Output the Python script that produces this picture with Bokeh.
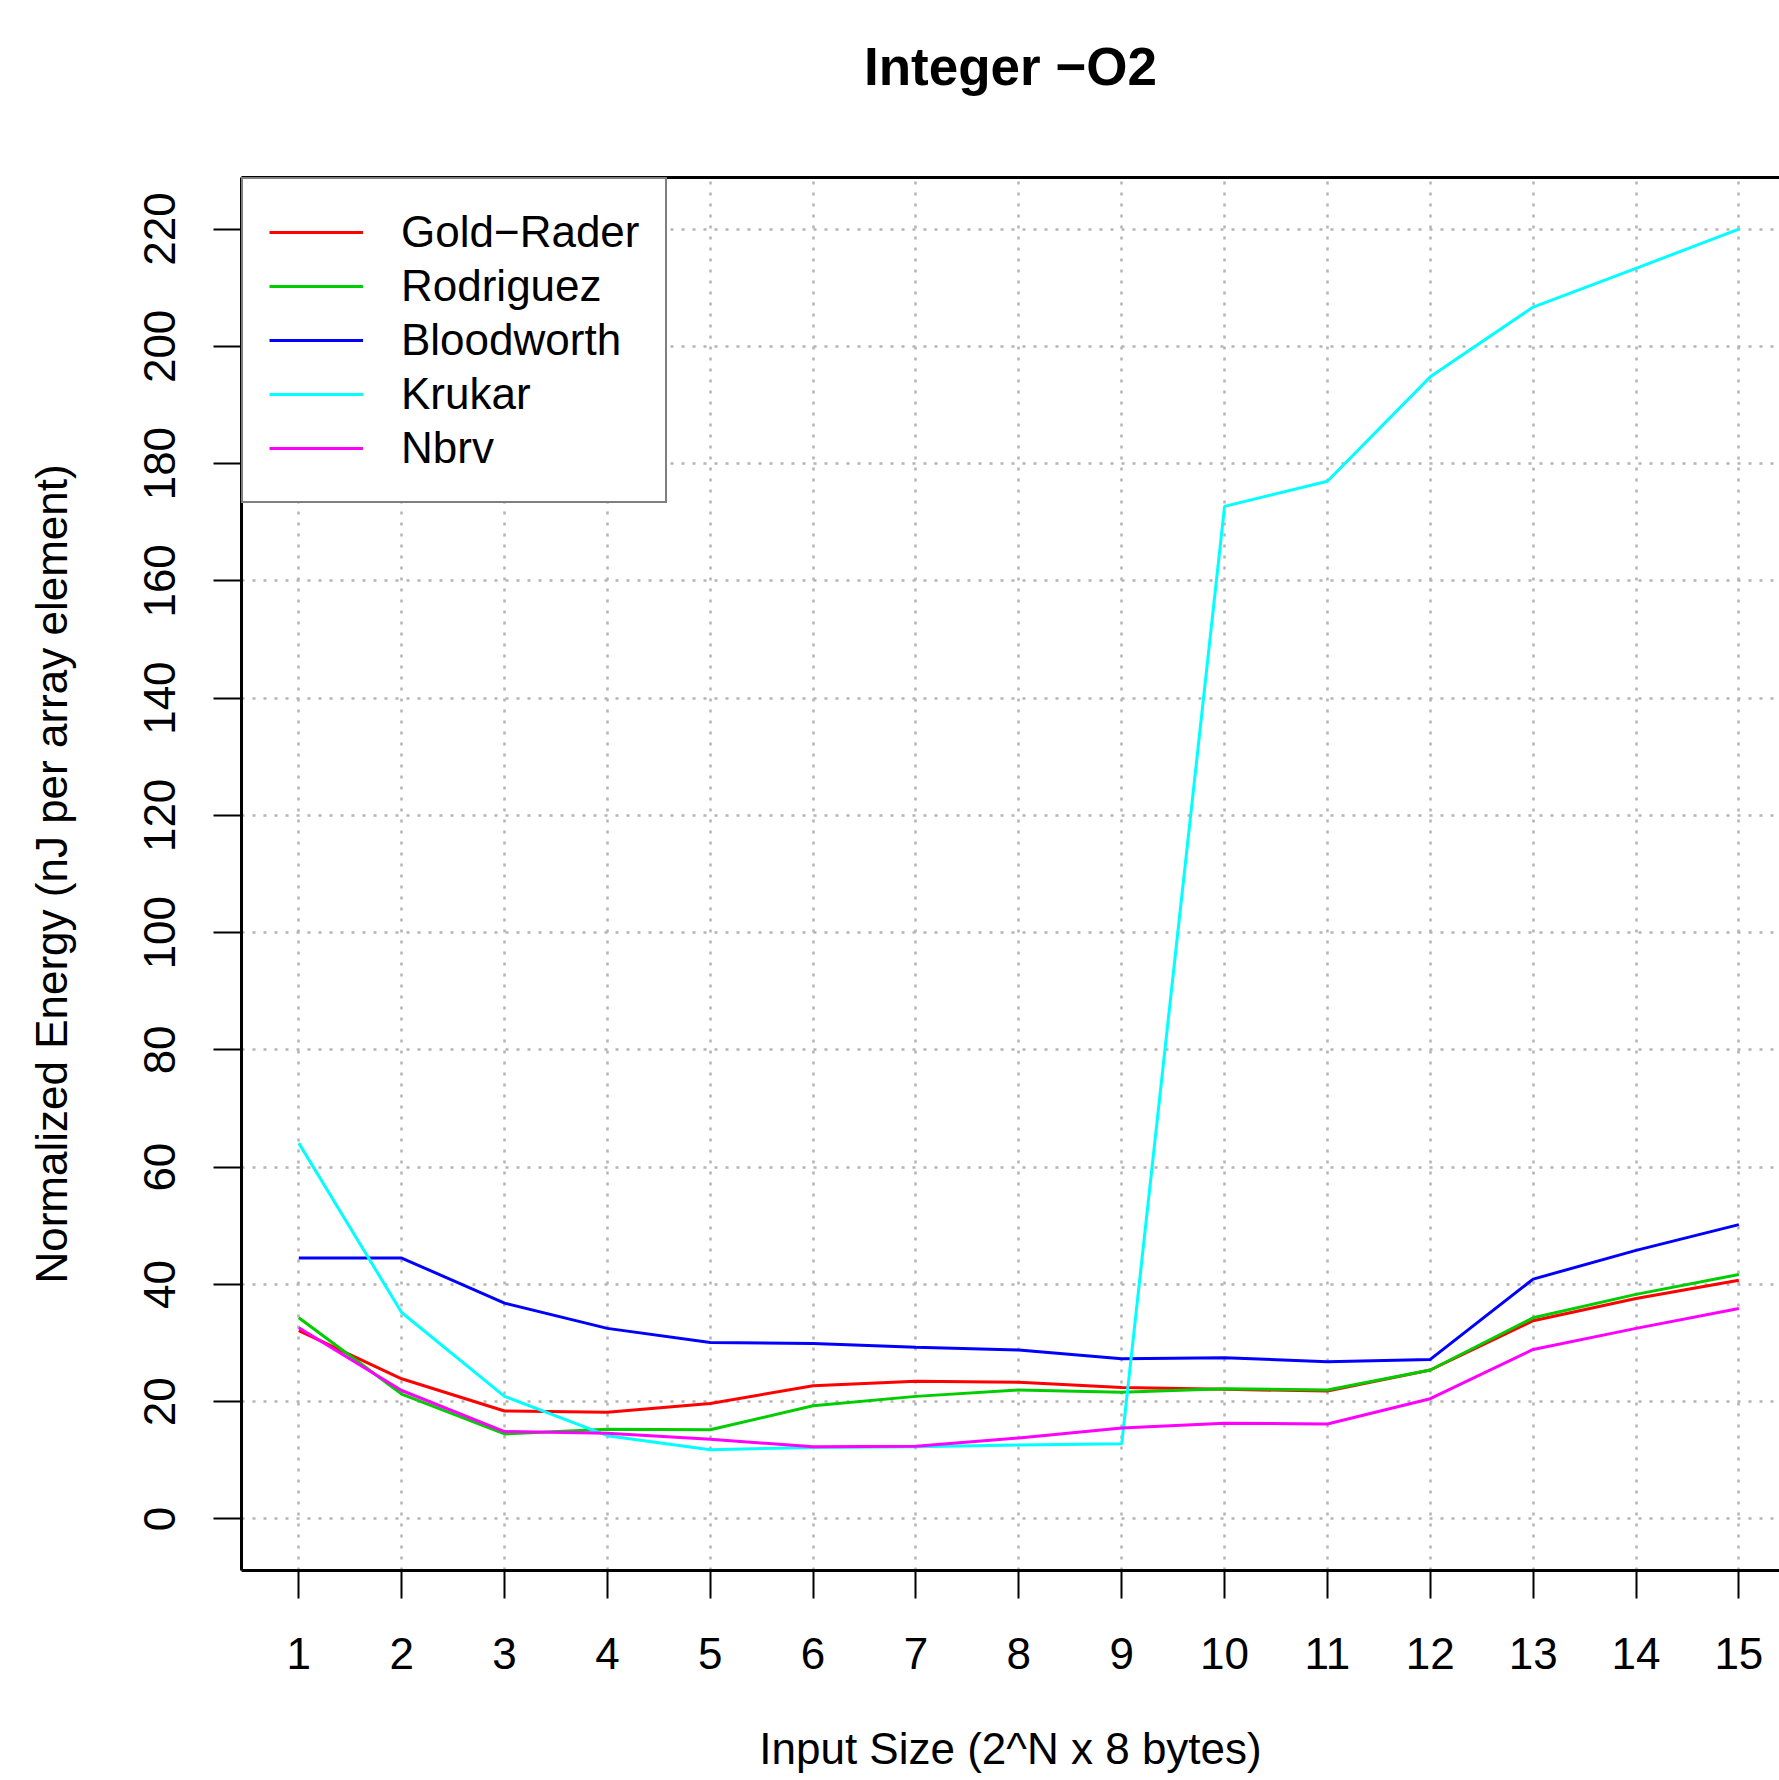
from bokeh.plotting import figure
from bokeh.models import Range1d, FixedTicker, LinearAxis
from bokeh.embed import file_html
from bokeh.resources import INLINE

# ---- data ----
sizes = [1, 2, 3, 4, 5, 6, 7, 8, 9, 10, 11, 12, 13, 14, 15]
gold_rader = [32.1, 23.9, 18.4, 18.2, 19.7, 22.7, 23.5, 23.3, 22.4, 22.1, 21.8, 25.4, 33.8, 37.6, 40.7]
rodriguez = [34.3, 21.3, 14.5, 15.3, 15.2, 19.3, 20.9, 22.0, 21.6, 22.2, 22.0, 25.4, 34.3, 38.3, 41.7]
bloodworth = [44.5, 44.5, 36.8, 32.5, 30.1, 29.9, 29.3, 28.8, 27.3, 27.5, 26.8, 27.2, 40.9, 45.8, 50.2]
krukar = [64.1, 35.2, 20.9, 14.2, 11.8, 12.2, 12.3, 12.6, 12.8, 172.7, 177.0, 194.8, 206.7, 213.3, 220.0]
nbrv = [32.6, 21.9, 14.9, 14.6, 13.6, 12.3, 12.4, 13.8, 15.5, 16.3, 16.2, 20.5, 28.9, 32.5, 35.9]

series_names = ["Gold\u2212Rader", "Rodriguez", "Bloodworth", "Krukar", "Nbrv"]
series_values = [gold_rader, rodriguez, bloodworth, krukar, nbrv]
series_colors = ["#FF0000", "#00CD00", "#0000FF", "#00FFFF", "#FF00FF"]

x_ticks = [1, 2, 3, 4, 5, 6, 7, 8, 9, 10, 11, 12, 13, 14, 15]
y_ticks = [0, 20, 40, 60, 80, 100, 120, 140, 160, 180, 200, 220]

title_text = "Integer \u2212O2"
x_label = "Input Size (2^N x 8 bytes)"
y_label = "Normalized Energy (nJ per array element)"

x_lim = (0.443, 15.395)      # visible part of the plot region
x_region = (0.443, 15.557)   # full R plot region (extends past the right edge)
y_lim = (-8.8, 228.8)

FONT = "Liberation Sans"

p = figure(
    width=1779, height=1780,
    x_range=Range1d(*x_lim), y_range=Range1d(*y_lim),
    output_backend="svg", toolbar_location=None,
    min_border_left=241, min_border_right=0,
    min_border_top=177, min_border_bottom=210,
)
p.background_fill_color = "white"
p.border_fill_color = "white"
p.outline_line_color = None

# grid
for g, t in ((p.xgrid, x_ticks), (p.ygrid, y_ticks)):
    g.ticker = FixedTicker(ticks=t)
    g.grid_line_color = "#B4B4B4"
    g.grid_line_width = 2.5
    g.grid_line_dash = "3 8"


def style_axis(ax, ticks):
    ax.ticker = FixedTicker(ticks=ticks)
    ax.minor_tick_line_color = None
    ax.major_tick_in = 0
    ax.major_tick_out = 28
    ax.major_tick_line_width = 2
    ax.major_tick_line_color = "black"
    ax.axis_line_color = "black"
    ax.axis_line_width = 3
    ax.major_label_text_font = FONT
    ax.major_label_text_font_size = "44px"
    ax.major_label_text_color = "black"
    ax.axis_label_text_font = FONT
    ax.axis_label_text_font_size = "44px"
    ax.axis_label_text_font_style = "normal"
    ax.axis_label_text_color = "black"


style_axis(p.xaxis[0], x_ticks)
style_axis(p.yaxis[0], y_ticks)

p.xaxis.bounds = x_region
p.xaxis.axis_label = x_label
p.xaxis.major_label_standoff = 39
p.xaxis.axis_label_standoff = 52

p.yaxis.axis_label = y_label
p.yaxis.major_label_orientation = "vertical"
p.yaxis.major_label_standoff = 38
p.yaxis.axis_label_standoff = 66

# top side of the box, carrying the title
top = LinearAxis(ticker=FixedTicker(ticks=[]), bounds=x_region,
                 axis_label=title_text, axis_label_standoff=82,
                 axis_label_text_font=FONT, axis_label_text_font_size="53px",
                 axis_label_text_font_style="bold", axis_label_text_color="black",
                 axis_line_color="black", axis_line_width=3,
                 major_tick_out=0, major_tick_in=0, major_tick_line_color=None,
                 minor_tick_line_color=None, major_label_text_color=None,
                 major_label_standoff=0)
p.add_layout(top, "above")

# series
for name, vals, col in zip(series_names, series_values, series_colors):
    p.line(sizes, vals, line_color=col, line_width=3, legend_label=name)

lg = p.legend[0]
lg.location = "top_left"
lg.margin = 0
lg.padding = 26
lg.spacing = 0
lg.glyph_width = 94
lg.glyph_height = 54
lg.label_height = 54
lg.label_standoff = 38
lg.label_text_font = FONT
lg.label_text_font_size = "44px"
lg.label_text_color = "black"
lg.border_line_color = "black"
lg.border_line_width = 2.5
lg.background_fill_color = "white"
lg.background_fill_alpha = 1.0

open("out.html", "w").write(file_html(p, INLINE))
